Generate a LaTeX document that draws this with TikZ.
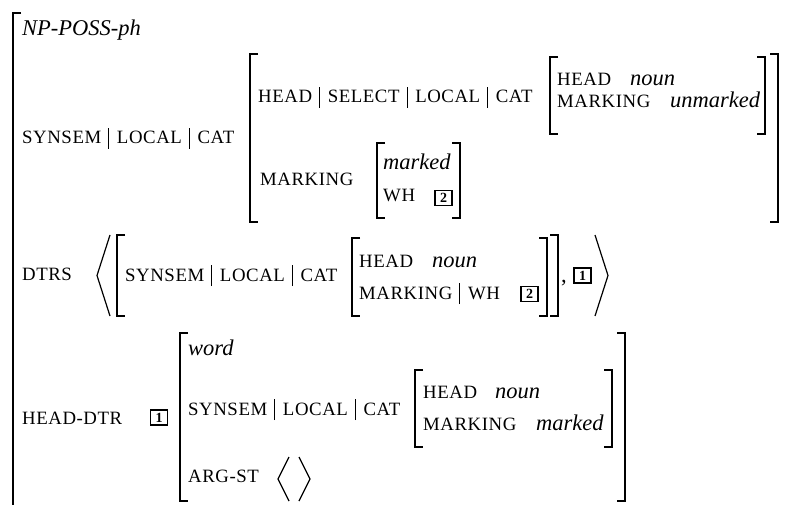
\documentclass[tikz,border=0pt]{standalone}
\usepackage{fontspec}
\setmainfont{Liberation Serif}
\newfontfamily\scfam[LetterSpace=3]{Liberation Serif}
\newcommand\avmsc{\scfam\fontsize{18.8}{20}\selectfont}
\newcommand\avmit{\fontsize{22.5}{24}\selectfont\itshape}
\newcommand\avmbar{\hspace{7pt}\vrule height 16pt depth 5pt width 0.7pt\hspace{8pt}}
\newcommand\avmL[3]{\draw[brk] (#1+8,#2) -- (#1,#2) -- (#1,#3) -- (#1+8,#3);}
\newcommand\avmR[3]{\draw[brk] (#1-8,#2) -- (#1,#2) -- (#1,#3) -- (#1-8,#3);}
\begin{document}
\begin{tikzpicture}[x=1pt,y=-1pt,
  lab/.style={anchor=base west, inner sep=0pt, font=\avmsc},
  val/.style={anchor=base west, inner sep=0pt, font=\avmit},
  tag/.style={draw, line width=1.4pt, inner sep=0pt, minimum width=17pt, minimum height=15pt, font=\fontsize{14}{14}\selectfont\bfseries},
  brk/.style={line width=1.8pt},
  ang/.style={line width=1.2pt}]
\useasboundingbox (0,0) rectangle (787,505);

% outer bracket
\draw[brk] (21,13) -- (13,13) -- (13,515);
\node[val] (type) at (22,36) {NP-POSS-ph};

% SYNSEM row
\node[lab] (ssl1) at (22,144) {SYNSEM\avmbar LOCAL\avmbar CAT};
\avmL{250}{54}{222}
\avmR{778}{54}{222}
\node[lab] (hsl) at (258,103) {HEAD\avmbar SELECT\avmbar LOCAL\avmbar CAT};
\avmL{550}{57}{134}
\avmR{765}{57}{134}
\node[lab] (h1) at (557,86) {HEAD};
\node[val] (n1) at (630,86) {noun};
\node[lab] (m1) at (557,108) {MARKING};
\node[val] (u1) at (670,108) {unmarked};
\node[lab] (m2) at (260,186) {MARKING};
\avmL{377}{143}{218}
\avmR{460}{143}{218}
\node[val] (mk1) at (383,170) {marked};
\node[lab] (wh1) at (383,202) {WH};
\node[tag] (t2a) at (443.5,198) {2};

% DTRS row
\node[lab] (dtrs) at (22,280) {DTRS};
\draw[ang] (110,235) -- (97,275.5) -- (110,316);
\avmL{117}{235}{316}
\avmR{558}{235}{316}
\node[lab] (ssl2) at (125,281) {SYNSEM\avmbar LOCAL\avmbar CAT};
\avmL{352}{238}{316}
\avmR{547}{238}{316}
\node[lab] (h2) at (359,267) {HEAD};
\node[val] (n2) at (432,267) {noun};
\node[lab] (mw2) at (359,299) {MARKING\avmbar WH};
\node[tag] (t2b) at (529.5,294) {2};
\node[anchor=base west, inner sep=0pt, font=\fontsize{22.5}{24}\selectfont] (comma) at (561,282) {,};
\node[tag] (t1a) at (582.5,275.5) {1};
\draw[ang] (595,235) -- (608,275.5) -- (595,316);

% HEAD-DTR row
\node[lab] (hd) at (22,424) {HEAD-DTR};
\node[tag] (t1b) at (159,417.5) {1};
\avmL{180}{333}{501}
\avmR{625}{333}{501}
\node[val] (word) at (188,355) {word};
\node[lab] (ssl3) at (188,415) {SYNSEM\avmbar LOCAL\avmbar CAT};
\avmL{415}{370}{447}
\avmR{612}{370}{447}
\node[lab] (h3) at (423,398) {HEAD};
\node[val] (n3) at (495,398) {noun};
\node[lab] (m3) at (423,430) {MARKING};
\node[val] (mk3) at (536,430) {marked};
\node[lab] (arg) at (188,482) {ARG-ST};
\draw[ang] (289,457) -- (278,479) -- (289,501);
\draw[ang] (299,457) -- (310,479) -- (299,501);
\end{tikzpicture}
\end{document}
